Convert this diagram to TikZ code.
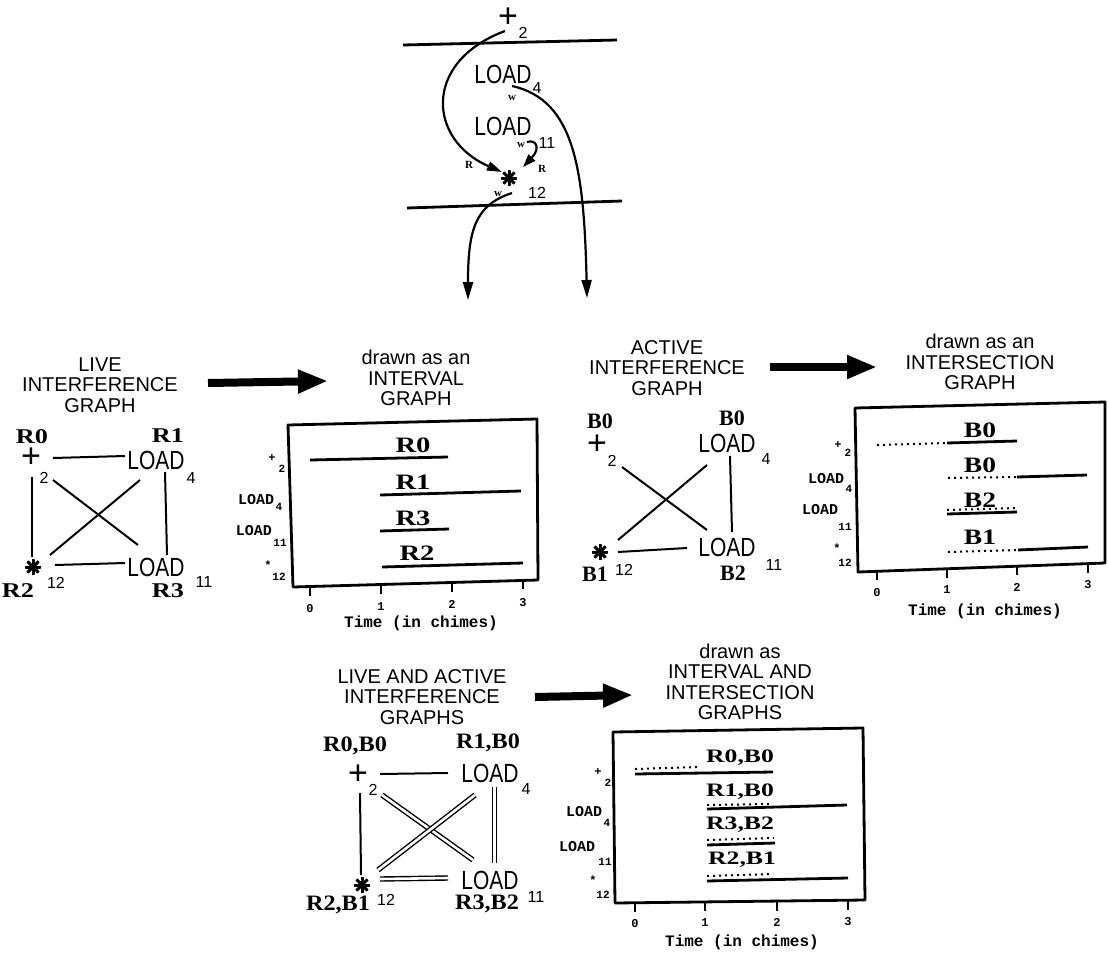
\documentclass[tikz,border=0pt]{standalone}
\usepackage{fontspec}
\usepackage{graphicx}
\setmainfont{Liberation Sans}
\newfontfamily\tmsfont{Liberation Serif}
\newfontfamily\monofont{Liberation Mono}
\usetikzlibrary{arrows.meta,calc}
\newcommand{\vstretch}[1]{\scalebox{1}[1.25]{#1}}
\newcommand{\hstretch}[2]{\scalebox{#1}[1]{#2}}
\tikzset{
 hdr/.style={font=\fontsize{20}{20.5}\selectfont, align=center, inner sep=0pt},
 vtx/.style={font=\fontsize{21}{21}\selectfont, inner sep=0pt},
 plus/.style={font=\fontsize{34}{34}\selectfont, inner sep=0pt},
 sub/.style={font=\fontsize{16}{16}\selectfont, inner sep=0pt},
 rlab/.style={font=\tmsfont\bfseries\fontsize{21}{21}\selectfont, inner sep=0pt},
 blab/.style={font=\tmsfont\bfseries\fontsize{22}{22}\selectfont, inner sep=0pt},
 plab/.style={font=\tmsfont\bfseries\fontsize{22}{22}\selectfont, inner sep=0pt},
 pclab/.style={font=\tmsfont\bfseries\fontsize{19}{19}\selectfont, inner sep=0pt},
 wlab/.style={font=\tmsfont\bfseries\fontsize{11}{11}\selectfont, inner sep=0pt},
 ylab/.style={font=\monofont\bfseries\fontsize{15}{15}\selectfont, inner sep=0pt},
 ysym/.style={font=\monofont\bfseries\fontsize{12}{12}\selectfont, inner sep=0pt},
 ysub/.style={font=\monofont\bfseries\fontsize{11}{11}\selectfont, inner sep=0pt},
 ticklab/.style={font=\monofont\bfseries\fontsize{12}{12}\selectfont, inner sep=0pt},
 axt/.style={font=\monofont\bfseries\fontsize{16}{16}\selectfont, inner sep=0pt},
 ast/.style={circle, inner sep=0pt, minimum size=16pt,
   path picture={\foreach \a in {0,45,90,135}{\draw[line width=3pt]
     ($(path picture bounding box.center)+(\a:8.5pt)$) -- ($(path picture bounding box.center)+(\a+180:8.5pt)$);}}},
 gedge/.style={line width=2pt},
 dedge/.style={double, double distance=2.6pt, line width=1.4pt},
 boxline/.style={line width=2.8pt, line join=round},
 ticktk/.style={line width=2.6pt},
 ivl/.style={line width=2.8pt},
 dotline/.style={line width=2pt, dash pattern=on 2pt off 4pt},
 bigarrow/.style={line width=8pt, -{Triangle[length=30pt,width=22pt]}},
 cv/.style={line width=2.2pt},
 hline/.style={line width=2.8pt},
}
\begin{document}
\begin{tikzpicture}[x=1pt,y=-1pt]
\useasboundingbox (0,0) rectangle (1108,953);
\fill[white] (0,0) rectangle (1108,953);

% ---------------- top ----------------
\draw[hline] (403,45) -- (617,40);
\draw[hline] (407,208) -- (622,201);
\node[plus] (tp) at (508,18) {+};
\node[sub] (tp2) at (523,33) {2};
\node[vtx] (t4) at (503,74) {\vstretch{LOAD}};
\node[sub] (t4s) at (537,88) {4};
\node[wlab] (tw1) at (512,98) {w};
\node[vtx] (t11) at (503,126) {\vstretch{LOAD}};
\node[sub] (t11s) at (547,143) {11};
\node[wlab] (tw2) at (521,145) {w};
\node[ast] (ta) at (509,178) {};
\node[sub] (t12) at (537,193) {12};
\node[wlab] (tw3) at (498,194) {w};
\node[wlab] (tr1) at (469,165) {R};
\node[wlab] (tr2) at (542,169) {R};
\coordinate (te1) at (468,300);
\coordinate (te2) at (587,298);
\draw[cv,-{Triangle[length=15pt,width=9pt]}] ([shift={(-3,13)}]tp.center) .. controls (422,62) and (428,140) .. ([shift={(-7,-6)}]ta.center);
\draw[cv,-{Triangle[length=18pt,width=10pt]}] ([shift={(9,12)}]t4.center) .. controls (575,100) and (584,170) .. (te2);
\draw[cv,-{Triangle[length=13pt,width=9pt]}] ([shift={(24,16)}]t11.center) .. controls (536,139) and (541,148) .. ([shift={(14,-11)}]ta.center);
\draw[cv,-{Triangle[length=18pt,width=10pt]}] ([shift={(3,15)}]ta.center) .. controls (475,205) and (468,230) .. (te1);

% ---------------- headers and arrows ----------------
\node[hdr] (h1) at (100,385) {LIVE\\INTERFERENCE\\GRAPH};
\node[hdr] (h2) at (416,378) {drawn as an\\INTERVAL\\GRAPH};
\node[hdr] (h3) at (667,368) {ACTIVE\\INTERFERENCE\\GRAPH};
\node[hdr] (h4) at (980,362) {drawn as an\\INTERSECTION\\GRAPH};
\node[hdr] (h5) at (422,697) {LIVE AND ACTIVE\\INTERFERENCE\\GRAPHS};
\node[hdr] (h6) at (740,682) {drawn as\\INTERVAL AND\\INTERSECTION\\GRAPHS};
\draw[bigarrow] ([shift={(108,-2)}]h1.center) -- ([shift={(-88,3)}]h2.center);
\draw[bigarrow] ([shift={(103,-1)}]h3.center) -- ([shift={(-103,5)}]h4.center);
\draw[bigarrow] ([shift={(113,0)}]h5.center) -- ([shift={(-107,13)}]h6.center);

% ---------------- live interference graph ----------------
\node[rlab] (lr0) at (32,437) {\hstretch{1.25}{R0}};
\node[plus] (la) at (31,458) {+};
\node[sub] (la2) at (44,478) {2};
\node[rlab] (lr1) at (168,436) {\hstretch{1.25}{R1}};
\node[vtx] (lb) at (156,460) {\vstretch{LOAD}};
\node[sub] (lb4) at (191,478) {4};
\node[ast] (lc) at (33,567) {};
\node[sub] (lc12) at (56,583) {12};
\node[rlab] (lr2) at (18,591) {\hstretch{1.25}{R2}};
\node[vtx] (ld) at (156,567) {\vstretch{LOAD}};
\node[sub] (ld11) at (204,582) {11};
\node[rlab] (lr3) at (168,591) {\hstretch{1.25}{R3}};
\draw[gedge] ([shift={(22,0)}]la.center) -- ([shift={(-31,-4)}]lb.center);
\draw[gedge] ([shift={(1,19)}]la.center) -- ([shift={(-1,-10)}]lc.center);
\draw[gedge] ([shift={(9,12)}]lb.center) -- ([shift={(11,-12)}]ld.center);
\draw[gedge] ([shift={(22,-2)}]lc.center) -- ([shift={(-31,-4)}]ld.center);
\draw[gedge] ([shift={(22,22)}]la.center) -- ([shift={(-18,-22)}]ld.center);
\draw[gedge] ([shift={(-16,20)}]lb.center) -- ([shift={(17,-12)}]lc.center);

% ---------------- interval graph ----------------
\draw[boxline] (288,425) -- (537,419) -- (538,580) -- (293,587) -- cycle;
\foreach \x/\yy/\n in {310/586.5/0, 381/584.5/1, 452/582.5/2, 523/580.4/3}{
  \draw[ticktk] (\x,\yy) -- (\x,\yy+9);
  \node[ticklab] (ia\n) at (\x,\yy+22) {\n};
}
\node[axt] (iat) at (421,623) {Time (in chimes)};
\node[ysym] (iy1) at (272,458) {+};
\node[ysub] (iy1s) at (282,469) {2};
\node[ylab] (iy2) at (256,500) {LOAD};
\node[ysub] (iy2s) at (279,507) {4};
\node[ylab] (iy3) at (254,531) {LOAD};
\node[ysub] (iy3s) at (280,543) {11};
\node[ysym] (iy4) at (268,565) {*};
\node[ysub] (iy4s) at (279,577) {12};
\draw[ivl] (310,460) -- (448,457);
\node[plab] (ir0) at (413,445) {\hstretch{1.3}{R0}};
\draw[ivl] (380,495) -- (521,491);
\node[plab] (ir1) at (413,482) {\hstretch{1.3}{R1}};
\draw[ivl] (380,531) -- (449,529);
\node[plab] (ir3) at (413,518) {\hstretch{1.3}{R3}};
\draw[ivl] (382,567) -- (523,563);
\node[plab] (ir2) at (417,553) {\hstretch{1.3}{R2}};

% ---------------- active interference graph ----------------
\node[blab] (ab0a) at (600,421) {B0};
\node[plus] (aa) at (597,445) {+};
\node[sub] (aa2) at (612,461) {2};
\node[blab] (ab0b) at (732,418) {B0};
\node[vtx] (ab) at (727,443) {\vstretch{LOAD}};
\node[sub] (ab4) at (766,459) {4};
\node[ast] (ac) at (600,552) {};
\node[blab] (ab1) at (595,574) {B1};
\node[sub] (ac12) at (624,570) {12};
\node[vtx] (ad) at (727,547) {\vstretch{LOAD}};
\node[blab] (ab2) at (733,573) {B2};
\node[sub] (ad11) at (774,565) {11};
\draw[gedge] ([shift={(25,22)}]aa.center) -- ([shift={(-20,-17)}]ad.center);
\draw[gedge] ([shift={(-20,22)}]ab.center) -- ([shift={(18,-12)}]ac.center);
\draw[gedge] ([shift={(3,13)}]ab.center) -- ([shift={(5,-15)}]ad.center);
\draw[gedge] ([shift={(18,0)}]ac.center) -- ([shift={(-40,1)}]ad.center);

% ---------------- intersection graph ----------------
\draw[boxline] (855,408) -- (1105,402) -- (1105,563) -- (858,572) -- cycle;
\foreach \x/\yy/\n in {877/571.3/0, 947/568.8/1, 1017/566.2/2, 1088/563.6/3}{
  \draw[ticktk] (\x,\yy) -- (\x,\yy+9);
  \node[ticklab] (sa\n) at (\x,\yy+21) {\n};
}
\node[axt] (sat) at (985,611) {Time (in chimes)};
\node[ysym] (sy1) at (838,445) {+};
\node[ysub] (sy1s) at (848,453) {2};
\node[ylab] (sy2) at (826,479) {LOAD};
\node[ysub] (sy2s) at (849,489) {4};
\node[ylab] (sy3) at (820,510) {LOAD};
\node[ysub] (sy3s) at (845,527) {11};
\node[ysym] (sy4) at (837,548) {*};
\node[ysub] (sy4s) at (845,563) {12};
\draw[dotline] (877,445) -- (947,443);
\draw[ivl] (947,443) -- (1017,441);
\node[plab] (sb0a) at (980,430) {\hstretch{1.25}{B0}};
\draw[dotline] (948,478) -- (1017,477);
\draw[ivl] (1017,477) -- (1087,475);
\node[plab] (sb0b) at (980,465) {\hstretch{1.25}{B0}};
\draw[ivl] (947,514) -- (1017,512);
\draw[dotline] (947,510) -- (1017,508);
\node[plab] (sb2) at (980,500) {\hstretch{1.25}{B2}};
\draw[dotline] (948,552) -- (1018,550);
\draw[ivl] (1018,550) -- (1088,547);
\node[plab] (sb1) at (980,537) {\hstretch{1.25}{B1}};

% ---------------- live and active graphs ----------------
\node[blab] (br0) at (355,746) {\hstretch{1.1}{R0,B0}};
\node[plus] (ba) at (358,775) {+};
\node[sub] (ba2) at (373,790) {2};
\node[blab] (br1) at (488,743) {\hstretch{1.1}{R1,B0}};
\node[vtx] (bb) at (490,773) {\vstretch{LOAD}};
\node[sub] (bb4) at (526,789) {4};
\node[ast] (bc) at (362,885) {};
\node[sub] (bc12) at (386,900) {12};
\node[blab] (br2) at (338,905) {\hstretch{1.1}{R2,B1}};
\node[vtx] (bd) at (490,880) {\vstretch{LOAD}};
\node[blab] (br3) at (487,904) {\hstretch{1.1}{R3,B2}};
\node[sub] (bd11) at (536,897) {11};
\draw[gedge] ([shift={(22,-1)}]ba.center) -- ([shift={(-42,0)}]bb.center);
\draw[gedge] ([shift={(2,18)}]ba.center) -- ([shift={(-1,-10)}]bc.center);
\draw[dedge] ([shift={(4.5,14)}]bb.center) -- ([shift={(4.5,-17)}]bd.center);
\draw[dedge] ([shift={(18,-6)}]bc.center) -- ([shift={(-42,-2)}]bd.center);
\draw[dedge] ([shift={(24,20)}]ba.center) -- ([shift={(-17,-20)}]bd.center);
\draw[dedge] ([shift={(-15,22)}]bb.center) -- ([shift={(16,-15)}]bc.center);

% ---------------- interval and intersection graphs ----------------
\draw[boxline] (613,732) -- (863,728) -- (865,900) -- (615,903) -- cycle;
\foreach \x/\yy/\n in {635/902.8/0, 705/902/1, 777/901.5/2, 848/900.6/3}{
  \draw[ticktk] (\x,\yy) -- (\x,\yy+9);
  \node[ticklab] (ba\n) at (\x,\yy+21) {\n};
}
\node[axt] (bat) at (742,942) {Time (in chimes)};
\node[ysym] (by1) at (598,772) {+};
\node[ysub] (by1s) at (608,783) {2};
\node[ylab] (by2) at (584,812) {LOAD};
\node[ysub] (by2s) at (607,823) {4};
\node[ylab] (by3) at (577,847) {LOAD};
\node[ysub] (by3s) at (605,862) {11};
\node[ysym] (by4) at (593,880) {*};
\node[ysub] (by4s) at (603,895) {12};
\draw[ivl] (635,774) -- (773,772);
\draw[dotline] (635,769) -- (698,767);
\node[pclab] (bl1) at (740,758) {\hstretch{1.35}{R0,B0}};
\draw[ivl] (707,809) -- (847,805);
\draw[dotline] (707,805) -- (770,804);
\node[pclab] (bl2) at (740,792) {\hstretch{1.35}{R1,B0}};
\draw[ivl] (707,845) -- (775,843);
\draw[dotline] (707,840) -- (774,838);
\node[pclab] (bl3) at (740,825) {\hstretch{1.35}{R3,B2}};
\draw[ivl] (707,881) -- (848,878);
\draw[dotline] (707,876) -- (773,874);
\node[pclab] (bl4) at (742,860) {\hstretch{1.35}{R2,B1}};
\end{tikzpicture}
\end{document}
